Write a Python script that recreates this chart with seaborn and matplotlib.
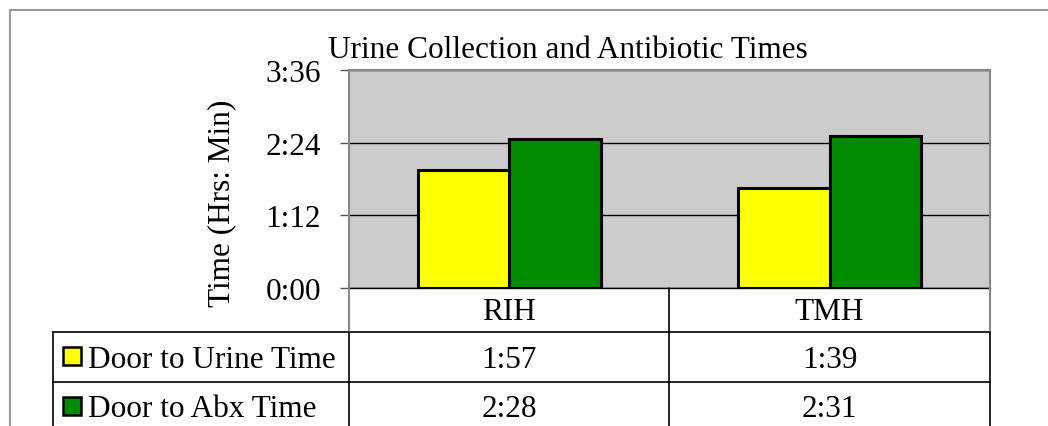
import matplotlib
matplotlib.use("Agg")
import matplotlib.pyplot as plt
import seaborn as sns
import pandas as pd
from matplotlib.ticker import FuncFormatter, MultipleLocator
from matplotlib.lines import Line2D
from matplotlib.patches import Rectangle

# ---- data ----
categories = ["RIH", "TMH"]
series_names = ["Door to Urine Time", "Door to Abx Time"]
urine_minutes = [117, 99]    # 1:57, 1:39
abx_minutes = [148, 151]     # 2:28, 2:31
urine_labels = ["1:57", "1:39"]
abx_labels = ["2:28", "2:31"]
colors = ["#FFFF00", "#008C00"]
title = "Urine Collection and Antibiotic Times"
ylabel = "Time (Hrs: Min)"

df = pd.DataFrame({
    "cat": categories * 2,
    "series": [series_names[0]] * 2 + [series_names[1]] * 2,
    "val": urine_minutes + abx_minutes,
})

sns.set_theme(style="white")
plt.rcParams["font.family"] = ["Liberation Serif", "DejaVu Serif"]
plt.rcParams["text.color"] = "black"
plt.rcParams["axes.labelcolor"] = "black"
plt.rcParams["ytick.color"] = "black"

W, H = 1048, 427
fig = plt.figure(figsize=(W / 100, H / 100), dpi=100)

def fx(px):
    return px / W

def fy(py):
    return 1 - py / H

fs = 22.5
ax_l, ax_r, ax_t, ax_b = 349, 990, 71, 289
ax = fig.add_axes([fx(ax_l), fy(ax_b), fx(ax_r - ax_l), (ax_b - ax_t) / H])
ax.set_facecolor("#CCCCCC")
sns.barplot(data=df, x="cat", y="val", hue="series", order=categories,
            hue_order=series_names, palette=colors, width=0.57, saturation=1,
            edgecolor="black", linewidth=2.2, legend=False, ax=ax, zorder=3)
ax.set_ylim(0, 216)
ax.set_xlim(-0.5, 1.5)
ax.yaxis.set_major_locator(MultipleLocator(72))
ax.yaxis.set_major_formatter(FuncFormatter(lambda v, p: f"{int(v)//60}:{int(v)%60:02d}"))
ax.grid(axis="y", color="black", linewidth=1.0, zorder=1)
ax.set_axisbelow(True)
ax.set_xticks([])
ax.set_xlabel("")
ax.set_ylabel("")
ax.tick_params(axis="y", labelsize=fs, length=6.5, width=1, color="#555555",
               labelcolor="black", left=True, pad=13.5)
for s in ax.spines.values():
    s.set_color("#888888")
    s.set_linewidth(1.5)
ax.spines["bottom"].set_color("black")
ax.spines["bottom"].set_linewidth(1)

fig.text(fx(568), fy(58), title, ha="center", va="baseline", fontsize=fs, color="black")
fig.text(fx(222), fy(203), ylabel, ha="center", va="center", rotation=90,
         fontsize=fs, color="black")

# ---- figure border ----
fig.add_artist(Rectangle((fx(10), -0.1), 1.2, fy(11) + 0.1, transform=fig.transFigure,
                         fill=False, edgecolor="#999999", linewidth=1.5))

# ---- data table ----
def hline(y, x0, x1, color="black", lw=1.2):
    fig.add_artist(Line2D([fx(x0), fx(x1)], [fy(y), fy(y)], transform=fig.transFigure,
                          color=color, linewidth=lw))

def vline(x, y0, y1, color="black", lw=1.2):
    fig.add_artist(Line2D([fx(x), fx(x)], [fy(y0), fy(y1)], transform=fig.transFigure,
                          color=color, linewidth=lw))

row_y = [289, 333, 383, 433]
col_x = [53, 349, 669, 990]
hline(333, 53, 990)
hline(383, 53, 990)
vline(349, 289, 333, color="#888888", lw=1.5)
vline(349, 333, 440)
vline(669, 289, 440)
vline(990, 289, 333, color="#888888", lw=1.5)
vline(990, 333, 440)
vline(53, 333, 440)

for i, c in enumerate(categories):
    xc = (col_x[i + 1] + col_x[i + 2]) / 2
    fig.text(fx(xc), fy((row_y[0] + row_y[1]) / 2 + 2), c, ha="center", va="center", fontsize=fs)
    fig.text(fx(xc), fy((row_y[1] + row_y[2]) / 2 + 2), urine_labels[i], ha="center", va="center", fontsize=fs)
    fig.text(fx(xc), fy((row_y[2] + row_y[3]) / 2 + 2), abx_labels[i], ha="center", va="center", fontsize=fs)

for j, name in enumerate(series_names):
    yc = (row_y[j + 1] + row_y[j + 2]) / 2
    fig.add_artist(Rectangle((fx(63), fy(yc + 7.5)), fx(18), 18 / H, transform=fig.transFigure,
                             facecolor=colors[j], edgecolor="black", linewidth=1.8))
    fig.text(fx(88), fy(yc + 2), name, ha="left", va="center", fontsize=fs)

fig.savefig("out.png", dpi=100)
